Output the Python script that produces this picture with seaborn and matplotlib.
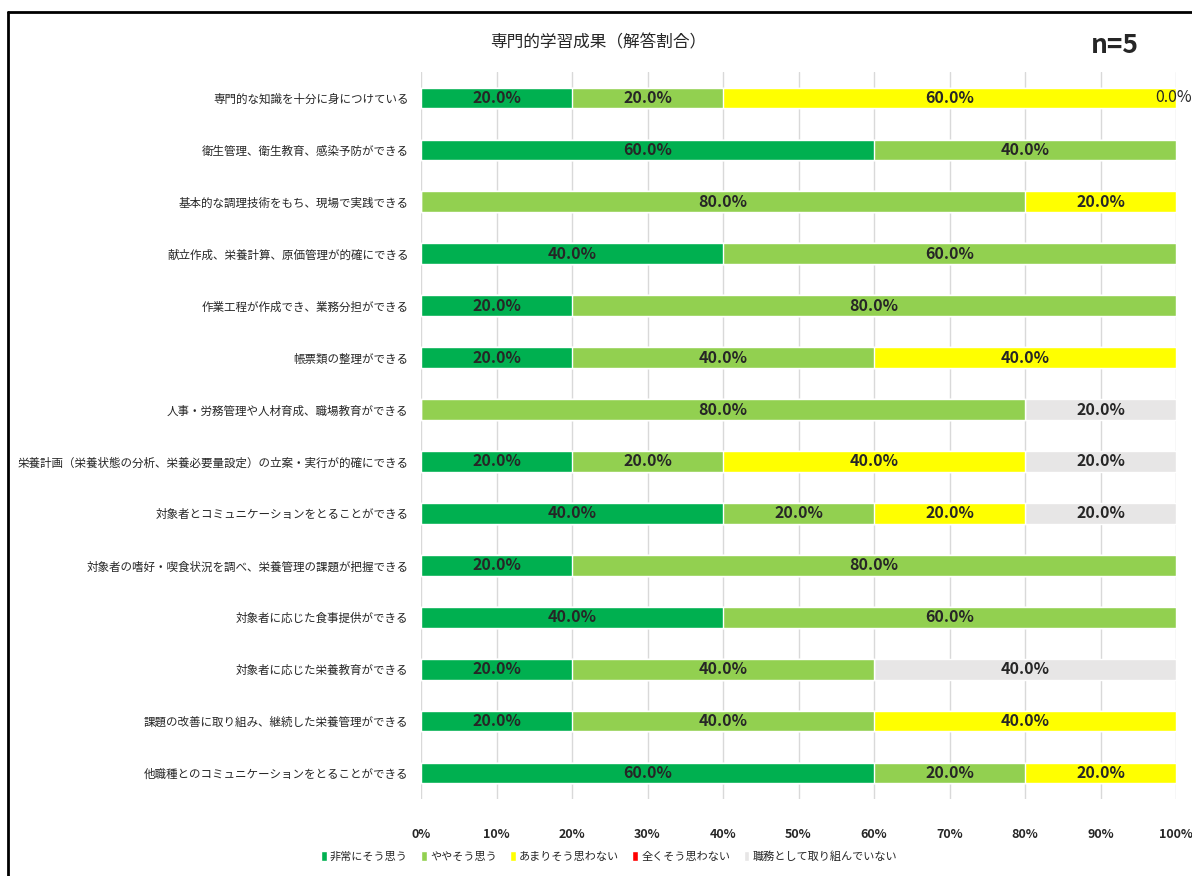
import numpy as np
import pandas as pd
import matplotlib
matplotlib.use("Agg")
import matplotlib.pyplot as plt
import seaborn as sns
from matplotlib.patches import Patch
from matplotlib.lines import Line2D

# data
items = [
    "専門的な知識を十分に身につけている",
    "衛生管理、衛生教育、感染予防ができる",
    "基本的な調理技術をもち、現場で実践できる",
    "献立作成、栄養計算、原価管理が的確にできる",
    "作業工程が作成でき、業務分担ができる",
    "帳票類の整理ができる",
    "人事・労務管理や人材育成、職場教育ができる",
    "栄養計画（栄養状態の分析、栄養必要量設定）の立案・実行が的確にできる",
    "対象者とコミュニケーションをとることができる",
    "対象者の嗜好・喫食状況を調べ、栄養管理の課題が把握できる",
    "対象者に応じた食事提供ができる",
    "対象者に応じた栄養教育ができる",
    "課題の改善に取り組み、継続した栄養管理ができる",
    "他職種とのコミュニケーションをとることができる",
]
categories = ["非常にそう思う", "ややそう思う", "あまりそう思わない", "全くそう思わない", "職務として取り組んでいない"]
very = [20, 60, 0, 40, 20, 20, 0, 20, 40, 20, 40, 20, 20, 60]
some = [20, 40, 80, 60, 80, 40, 80, 20, 20, 80, 60, 40, 40, 20]
notmuch = [60, 0, 20, 0, 0, 40, 0, 40, 20, 0, 0, 0, 40, 20]
notatall = [0, 0, 0, 0, 0, 0, 0, 0, 0, 0, 0, 0, 0, 0]
notjob = [0, 0, 0, 0, 0, 0, 20, 20, 20, 0, 0, 40, 0, 0]
zero_labels = [(0, "全くそう思わない")]  # only zero value shown in the chart
colors = ["#00B050", "#92D050", "#FFFF00", "#FF0000", "#E7E6E6"]
xticks = [0, 10, 20, 30, 40, 50, 60, 70, 80, 90, 100]

df = pd.DataFrame(dict(zip(categories, [very, some, notmuch, notatall, notjob])), index=items)
cum = df.cumsum(axis=1)

sns.set_style("white")
plt.rcParams["font.family"] = ["Noto Sans CJK JP", "DejaVu Sans"]
numfont = ["Liberation Sans Narrow", "Noto Sans CJK JP"]

fig = plt.figure(figsize=(11.92, 8.76), dpi=100)
ax = fig.add_axes([0.3532, 0.0879, 0.6334, 0.8299])

# stacked bars: draw cumulative totals from the last series backwards
for cat, col in reversed(list(zip(categories, colors))):
    d = pd.DataFrame({"item": items, "val": cum[cat].values})
    sns.barplot(data=d, y="item", x="val", color=col, width=0.4,
                saturation=1, ax=ax, zorder=3, orient="h")

# value labels
for i, it in enumerate(items):
    left = 0
    for cat in categories:
        v = df.loc[it, cat]
        if v > 0:
            ax.text(left + v / 2, i, f"{v:.1f}%", ha="center", va="center",
                    fontsize=11.5, fontweight="bold", family=numfont, zorder=5)
        left += v
for i, cat in zero_labels:
    ax.text(cum.loc[items[i], cat] - 0.3, i, f"{df.loc[items[i], cat]:.1f}%", ha="center",
            va="center", fontsize=11.5, family=numfont, zorder=5)

ax.set_xlim(0, 100)
ax.set_ylim(len(items) - 0.5, -0.5)
ax.set_xticks(xticks)
ax.set_xticklabels([f"{t}%" for t in xticks], fontsize=9, fontweight="bold", family=numfont)
ax.tick_params(axis="x", length=0, pad=21)
ax.tick_params(axis="y", length=0, pad=9, labelsize=8.3)
ax.set_xlabel("")
ax.set_ylabel("")
ax.grid(axis="x", color="#D9D9D9", linewidth=1, zorder=0)
for s in ax.spines.values():
    s.set_visible(False)

handles = [Patch(facecolor=c, label=l) for l, c in zip(categories, colors)]
fig.legend(handles=handles, loc="center", bbox_to_anchor=(0.511, 0.022), ncol=5,
           frameon=False, fontsize=8, handlelength=0.5, handleheight=1.0,
           handletextpad=0.3, columnspacing=1.2)

fig.text(0.502, 0.951, "専門的学習成果（解答割合）", ha="center", va="center", fontsize=12)
fig.text(0.935, 0.948, "n=5", ha="center", va="center", fontsize=19, fontweight="bold",
         family=numfont)

# frame
fig.add_artist(Line2D([8 / 1192, 1], [1 - 12 / 876] * 2, color="black", lw=2, transform=fig.transFigure))
fig.add_artist(Line2D([8 / 1192] * 2, [0, 1 - 12 / 876], color="black", lw=2, transform=fig.transFigure))

fig.savefig("out.png", dpi=100)
